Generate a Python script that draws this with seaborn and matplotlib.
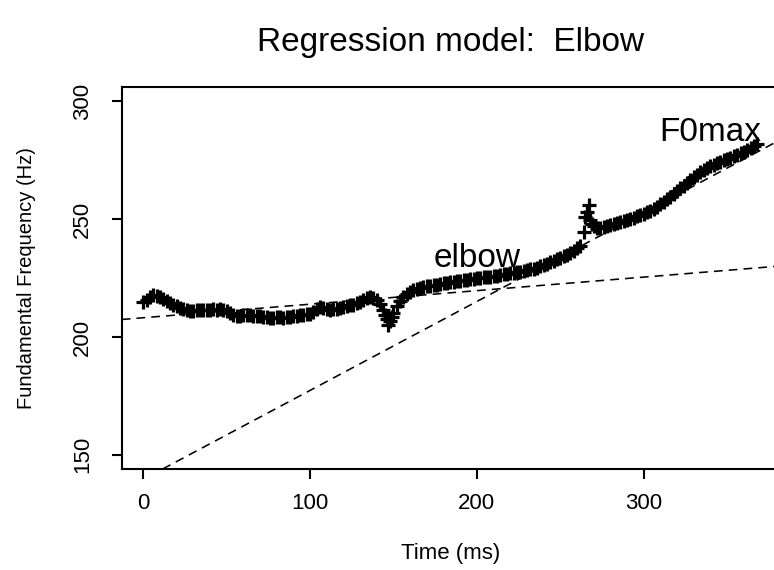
import numpy as np
import pandas as pd
import matplotlib
matplotlib.use("Agg")
import matplotlib.pyplot as plt
import seaborn as sns

# ---- data ----
time_ms = [0, 2, 4, 6, 8, 10, 12, 14, 16, 18, 20,
           22, 24, 26, 28, 30, 32, 34, 36, 38, 40, 42, 44, 46, 48, 50,
           52, 54, 56, 58, 60, 62, 64, 66, 68, 70,
           72, 74, 76, 78, 80, 82, 84, 86, 88, 90,
           92, 94, 96, 98, 100, 102, 104, 106, 108, 110,
           112, 114, 116, 118, 120, 122, 124, 126, 128, 130,
           132, 134, 136, 138, 140, 142, 144, 145, 146, 147, 148, 149, 150, 152,
           154, 156, 158, 160, 162, 164, 166, 168, 170,
           172, 174, 176, 178, 180, 182, 184, 186, 188, 190,
           192, 194, 196, 198, 200, 202, 204, 206, 208, 210,
           212, 214, 216, 218, 220, 222, 224, 226, 228, 230,
           232, 234, 236, 238, 240, 242, 244, 246, 248, 250,
           252, 254, 256, 258, 260, 262,
           264, 265, 266, 267, 268, 269,
           270, 272, 274, 276, 278, 280, 282, 284, 286, 288, 290,
           292, 294, 296, 298, 300, 302, 304, 306, 308, 310,
           312, 314, 316, 318, 320, 322, 324, 326, 328, 330,
           332, 334, 336, 338, 340, 342, 344, 346, 348, 350,
           352, 354, 356, 358, 360, 362, 364, 366, 368]
f0_hz = [214.8, 215.8, 216.8, 218.0, 217.6, 217.0, 216.2, 215.4, 214.6, 213.8, 213.0,
         212.3, 211.7, 211.3, 211.0, 211.1, 211.3, 211.4, 211.3, 211.5, 211.6, 211.7, 211.6, 211.8, 211.6, 211.2,
         210.2, 209.5, 209.1, 209.0, 209.3, 209.4, 209.2, 209.0, 208.9, 208.8,
         208.6, 208.5, 208.3, 208.2, 208.4, 208.6, 208.3, 208.4, 208.7, 208.9,
         209.1, 209.3, 209.5, 209.7, 210.0, 210.6, 211.8, 212.6, 212.2, 211.8,
         211.5, 211.7, 212.1, 212.5, 212.7, 213.0, 213.4, 213.8, 214.3, 215.0,
         215.9, 216.5, 216.8, 216.6, 215.6, 214.0, 211.5, 209.5, 207.5, 205.0, 206.8, 208.6, 210.3, 213.0,
         215.5, 217.2, 218.3, 219.2, 219.9, 220.5, 220.9, 221.3, 221.6,
         221.8, 222.1, 222.3, 222.5, 222.8, 223.0, 223.2, 223.4, 223.7, 223.9,
         224.1, 224.3, 224.5, 224.7, 224.9, 225.1, 225.3, 225.5, 225.7, 225.9,
         226.1, 226.3, 226.6, 226.8, 227.0, 227.3, 227.6, 227.8, 228.1, 228.5,
         228.8, 229.1, 229.5, 230.0, 230.6, 231.1, 231.7, 232.3, 233.0, 233.6,
         234.3, 235.0, 235.8, 236.7, 237.6, 238.6,
         244.6, 251.0, 253.1, 256.0, 249.6, 248.2,
         247.0, 246.4, 246.5, 246.8, 247.2, 247.6, 248.0, 248.4, 248.8, 249.2, 249.7,
         250.2, 250.7, 251.2, 251.8, 252.4, 253.0, 253.7, 254.5, 255.3, 256.3,
         257.3, 258.4, 259.6, 260.8, 262.0, 263.2, 264.3, 265.4, 266.5, 267.8,
         268.9, 270.0, 271.0, 271.8, 272.5, 273.2, 273.8, 274.4, 275.0, 275.6,
         276.2, 276.8, 277.4, 278.0, 278.7, 279.4, 280.2, 281.0, 282.0]

fit_intercepts = [208.2, 139.6]
fit_slopes = [0.0575, 0.3775]

x_ticks = [0, 100, 200, 300]
y_ticks = [150, 200, 250, 300]

note_labels = ["elbow", "F0max"]
note_x = [200, 340]
note_y = [233.4, 287.0]

title_text = "Regression model:  Elbow"
x_label = "Time (ms)"
y_label = "Fundamental Frequency (Hz)"

# ---- style ----
sns.set_style("ticks")
plt.rcParams["font.family"] = ["Liberation Sans", "DejaVu Sans"]
plt.rcParams["text.color"] = "black"
plt.rcParams["axes.labelcolor"] = "black"
plt.rcParams["xtick.color"] = "black"
plt.rcParams["ytick.color"] = "black"
plt.rcParams["axes.edgecolor"] = "black"

fig = plt.figure(figsize=(7.74, 5.70), dpi=100)
ax = fig.add_axes([0.1572, 0.1772, 0.8504, 0.6696])

df = pd.DataFrame({"time": time_ms, "f0": f0_hz})
sns.scatterplot(data=df, x="time", y="f0", marker="+", s=100, color="black",
                linewidth=2.3, ax=ax, legend=False, zorder=3)

for a, b in zip(fit_intercepts, fit_slopes):
    ax.axline((0, a), slope=b, color="black", lw=1.15, linestyle=(0, (5.5, 3.8)), zorder=2)

for lab, tx, ty in zip(note_labels, note_x, note_y):
    ax.text(tx, ty, lab, fontsize=24, ha="center", va="center", color="black", zorder=4)

ax.set_xlim(-12.9, 381.6)
ax.set_ylim(144, 306)
ax.set_xticks(x_ticks)
ax.set_xticklabels([str(v) for v in x_ticks], fontsize=16, color="black")
ax.set_yticks(y_ticks)
ax.set_yticklabels([str(v) for v in y_ticks], fontsize=16, rotation=90, va="center", color="black")

for side in ["left", "bottom", "top"]:
    ax.spines[side].set_linewidth(1.5)
    ax.spines[side].set_color("black")
ax.spines["right"].set_visible(False)

ax.tick_params(axis="both", direction="out", length=7, width=1.5, color="black", labelcolor="black")
ax.tick_params(axis="x", pad=10)
ax.tick_params(axis="y", pad=13.7)

ax.set_xlabel(x_label, fontsize=16, color="black")
ax.set_ylabel(y_label, fontsize=14.5, color="black")
ax.xaxis.set_label_coords(0.5, -0.195)
ax.yaxis.set_label_coords(-0.1308, 0.5)

ax.set_title(title_text, fontsize=24, pad=26, color="black")

fig.savefig("out.png", dpi=100)
